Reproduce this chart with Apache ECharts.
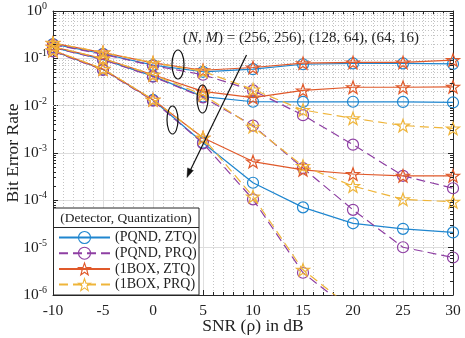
<!DOCTYPE html>
<html><head><meta charset="utf-8">
<script src="https://cdn.jsdelivr.net/npm/echarts@6/dist/echarts.min.js"></script>
<style>html,body{margin:0;padding:0;background:#fff}#c{width:465px;height:338px}</style>
</head><body><div id="c"></div>
<script>
// ---------- data ----------
const snr = [-10, -5, 0, 5, 10, 15, 20, 25, 30];
const legendNames = ['(PQND, ZTQ)', '(PQND, PRQ)', '(1BOX, ZTQ)', '(1BOX, PRQ)'];
const xTicks = [-10, -5, 0, 5, 10, 15, 20, 25, 30];
const yDecades = [1e-6, 1e-5, 1e-4, 1e-3, 1e-2, 1e-1, 1];

// (N,M) = (256,256)
const pqndZtqA = [0.200, 0.125, 0.072, 0.052, 0.059, 0.075, 0.078, 0.078, 0.076];
const pqndPrqA = [0.195, 0.122, 0.070, 0.045, 0.021, 0.0063, 0.0015, 0.00033, 0.00018];
const boxZtqA  = [0.210, 0.132, 0.080, 0.056, 0.064, 0.079, 0.082, 0.082, 0.092];
const boxPrqA  = [0.212, 0.133, 0.081, 0.053, 0.022, 0.0081, 0.0054, 0.0038, 0.0033];
// (N,M) = (128,64)
const pqndZtqB = [0.170, 0.095, 0.042, 0.0155, 0.0121, 0.0120, 0.0121, 0.0120, 0.0117];
const pqndPrqB = [0.168, 0.094, 0.041, 0.015, 0.0038, 0.00048, 0.000063, 0.0000102, 0.0000062];
const boxZtqB  = [0.176, 0.099, 0.045, 0.020, 0.0148, 0.021, 0.0245, 0.0245, 0.025];
const boxPrqB  = [0.176, 0.099, 0.045, 0.017, 0.0036, 0.00053, 0.00020, 0.000105, 0.000093];
// (N,M) = (64,16)
const pqndZtqC = [0.143, 0.058, 0.0132, 0.00165, 0.000235, 0.000071, 0.0000327, 0.000025, 0.000021];
const pqndPrqC = [0.140, 0.057, 0.0128, 0.0016, 0.000105, 0.00000295, 0.00000044, null, null];
const boxZtqC  = [0.146, 0.059, 0.0133, 0.0021, 0.00066, 0.00044, 0.00036, 0.00033, 0.00033];
const boxPrqC  = [0.148, 0.060, 0.0134, 0.0021, 0.00012, 0.0000034, 0.0000005, null, null];

const groups = [
  [pqndZtqA, pqndPrqA, boxZtqA, boxPrqA],
  [pqndZtqB, pqndPrqB, boxZtqB, boxPrqB],
  [pqndZtqC, pqndPrqC, boxZtqC, boxPrqC]
];

// ---------- styles ----------
const colors = ['#1f86cf', '#8e3fa3', '#e0592a', '#efb53a'];
const dashed = [false, true, false, true];
const starPath = 'path://M0,-10L2.35,-3.24L9.51,-3.09L3.8,1.24L5.88,8.09L0,4L-5.88,8.09L-3.8,1.24L-9.51,-3.09L-2.35,-3.24Z';
const symbols = ['circle', 'circle', starPath, starPath];
const symSizes = [11, 11, 13, 13];
const FONT = 'Liberation Serif';
const AX = '#262626';
const CLEAR = 'rgba(255,255,255,0)';

const minorVals = [];
yDecades.slice(0, -1).forEach(d => { for (let k = 2; k <= 9; k++) minorVals.push(k * d); });

const series = [];
groups.forEach((g, gi) => {
  g.forEach((vals, si) => {
    series.push({
      type: 'line',
      name: legendNames[si],
      data: snr.map((x, i) => [x, vals[i]]),
      xAxisIndex: 0, yAxisIndex: 0,
      symbol: symbols[si],
      symbolSize: symSizes[si],
      symbolKeepAspect: true,
      showAllSymbol: true,
      clip: true,
      connectNulls: false,
      lineStyle: { color: colors[si], width: 1.2, type: dashed[si] ? [9, 5] : 'solid' },
      itemStyle: { color: CLEAR, borderColor: colors[si], borderWidth: 1.2 },
      emphasis: { disabled: true },
      z: 2 + si * 0.1
    });
  });
});

series[0].markLine = {
  silent: true, symbol: 'none', z: 1, animation: false,
  label: { show: false },
  lineStyle: { color: '#c4c4c4', type: [1, 2], width: 1 },
  data: minorVals.map(v => ({ yAxis: v }))
};
series[1].markLine = {
  silent: true, symbol: 'none', z: 3, animation: false,
  label: { show: false },
  lineStyle: { color: AX, type: 'solid', width: 1 },
  data: minorVals.map(v => [{ coord: [xTicks[0], v] }, { coord: [xTicks[0] + 0.3, v] }])
    .concat(minorVals.map(v => [{ coord: [xTicks[xTicks.length - 1], v] }, { coord: [xTicks[xTicks.length - 1] - 0.3, v] }]))
};

const yLabelFmt = v => {
  const e = Math.round(Math.log10(v));
  return '{b|10}{s|' + e + '}';
};

const xAxisBase = {
  type: 'value', min: -10, max: 30, interval: 5,
  axisLine: { show: true, onZero: false, lineStyle: { color: AX, width: 1 } },
  axisTick: { show: true, inside: true, length: 5, lineStyle: { color: AX } },
  minorTick: { show: true, splitNumber: 5, length: 3, lineStyle: { color: AX } },
};

const chart = echarts.init(document.getElementById('c'), null, { renderer: 'canvas' });
chart.setOption({
  animation: false,
  backgroundColor: '#fff',
  grid: { left: 53, right: 12, top: 11, bottom: 43, containLabel: false, outerBoundsMode: 'none' },
  xAxis: [
    Object.assign({}, xAxisBase, {
      position: 'bottom',
      name: 'SNR (ρ) in dB', nameLocation: 'middle', nameGap: 22, nameMoveOverlap: false,
      nameTextStyle: { fontFamily: FONT, fontSize: 17.5, color: '#222' },
      axisLabel: { fontFamily: FONT, fontSize: 15.5, color: '#222', margin: 8 },
      splitLine: { show: true, lineStyle: { color: '#dedede', width: 1 } },
      minorSplitLine: { show: true, lineStyle: { color: '#c4c4c4', type: [1, 2], width: 1 } }
    }),
    Object.assign({}, xAxisBase, {
      position: 'top',
      axisLabel: { show: false },
      splitLine: { show: false }
    })
  ],
  yAxis: [
    {
      type: 'log', logBase: 10, min: 1e-6, max: 1, splitNumber: 6,
      position: 'left',
      name: 'Bit Error Rate', nameLocation: 'middle', nameGap: 31, nameRotate: 90, nameMoveOverlap: false,
      nameTextStyle: { fontFamily: FONT, fontSize: 17.5, color: '#222' },
      axisLine: { show: true, onZero: false, lineStyle: { color: AX, width: 1 } },
      axisTick: { show: true, inside: true, length: 5, lineStyle: { color: AX } },
      axisLabel: {
        formatter: yLabelFmt, margin: 6,
        rich: {
          b: { fontFamily: FONT, fontSize: 15.5, color: '#222' },
          s: { fontFamily: FONT, fontSize: 10, color: '#222', padding: [0, 0, 9, 0] }
        }
      },
      splitLine: { show: true, lineStyle: { color: '#dedede', width: 1 } }
    },
    {
      type: 'log', logBase: 10, min: 1e-6, max: 1, splitNumber: 6,
      position: 'right',
      axisLine: { show: true, onZero: false, lineStyle: { color: AX, width: 1 } },
      axisTick: { show: true, inside: true, length: 5, lineStyle: { color: AX } },
      axisLabel: { show: false },
      splitLine: { show: false }
    }
  ],
  legend: {
    data: legendNames,
    orient: 'vertical',
    left: 58, top: 230,
    itemWidth: 51, itemHeight: 15, itemGap: 0.7,
    padding: 0,
    itemStyle: { color: CLEAR, borderWidth: 1.1 },
    textStyle: { fontFamily: FONT, fontSize: 14, color: '#222', lineHeight: 15 },
    selectedMode: false,
    z: 10
  },
  graphic: [
    { type: 'rect', z: 8, shape: { x: 53.5, y: 208, width: 145.5, height: 87 },
      style: { fill: '#fff', stroke: AX, lineWidth: 1 } },
    { type: 'line', z: 9, shape: { x1: 53.5, y1: 227.5, x2: 199, y2: 227.5 },
      style: { stroke: AX, lineWidth: 1 } },
    { type: 'text', z: 9, x: 126, y: 218,
      style: { text: '(Detector, Quantization)', fontFamily: FONT, fontSize: 13.5, fill: '#222',
               textAlign: 'center', textVerticalAlign: 'middle' } },
    { type: 'text', z: 9, x: 183, y: 38,
      style: {
        text: '({i|N}, {i|M}) = (256, 256), (128, 64), (64, 16)',
        fontFamily: FONT, fontSize: 15, fill: '#222', textVerticalAlign: 'middle',
        rich: { i: { fontFamily: FONT, fontSize: 15, fontStyle: 'italic', fill: '#222' } }
      } },
    { type: 'ellipse', z: 9, shape: { cx: 178, cy: 64.5, rx: 6, ry: 14.5 },
      style: { fill: 'none', stroke: '#111', lineWidth: 1.2 } },
    { type: 'ellipse', z: 9, shape: { cx: 202.5, cy: 99, rx: 5.5, ry: 14 },
      style: { fill: 'none', stroke: '#111', lineWidth: 1.2 } },
    { type: 'ellipse', z: 9, shape: { cx: 172.5, cy: 120, rx: 5.5, ry: 14 },
      style: { fill: 'none', stroke: '#111', lineWidth: 1.2 } },
    { type: 'line', z: 9, shape: { x1: 246.5, y1: 55, x2: 189, y2: 173 },
      style: { stroke: '#111', lineWidth: 1.2 } },
    { type: 'polygon', z: 9, shape: { points: [[187, 177.5], [193.2, 170.6], [187.6, 167.9]] },
      style: { fill: '#111', stroke: '#111', lineWidth: 0.5 } }
  ],
  series: series
});
</script>
</body></html>
